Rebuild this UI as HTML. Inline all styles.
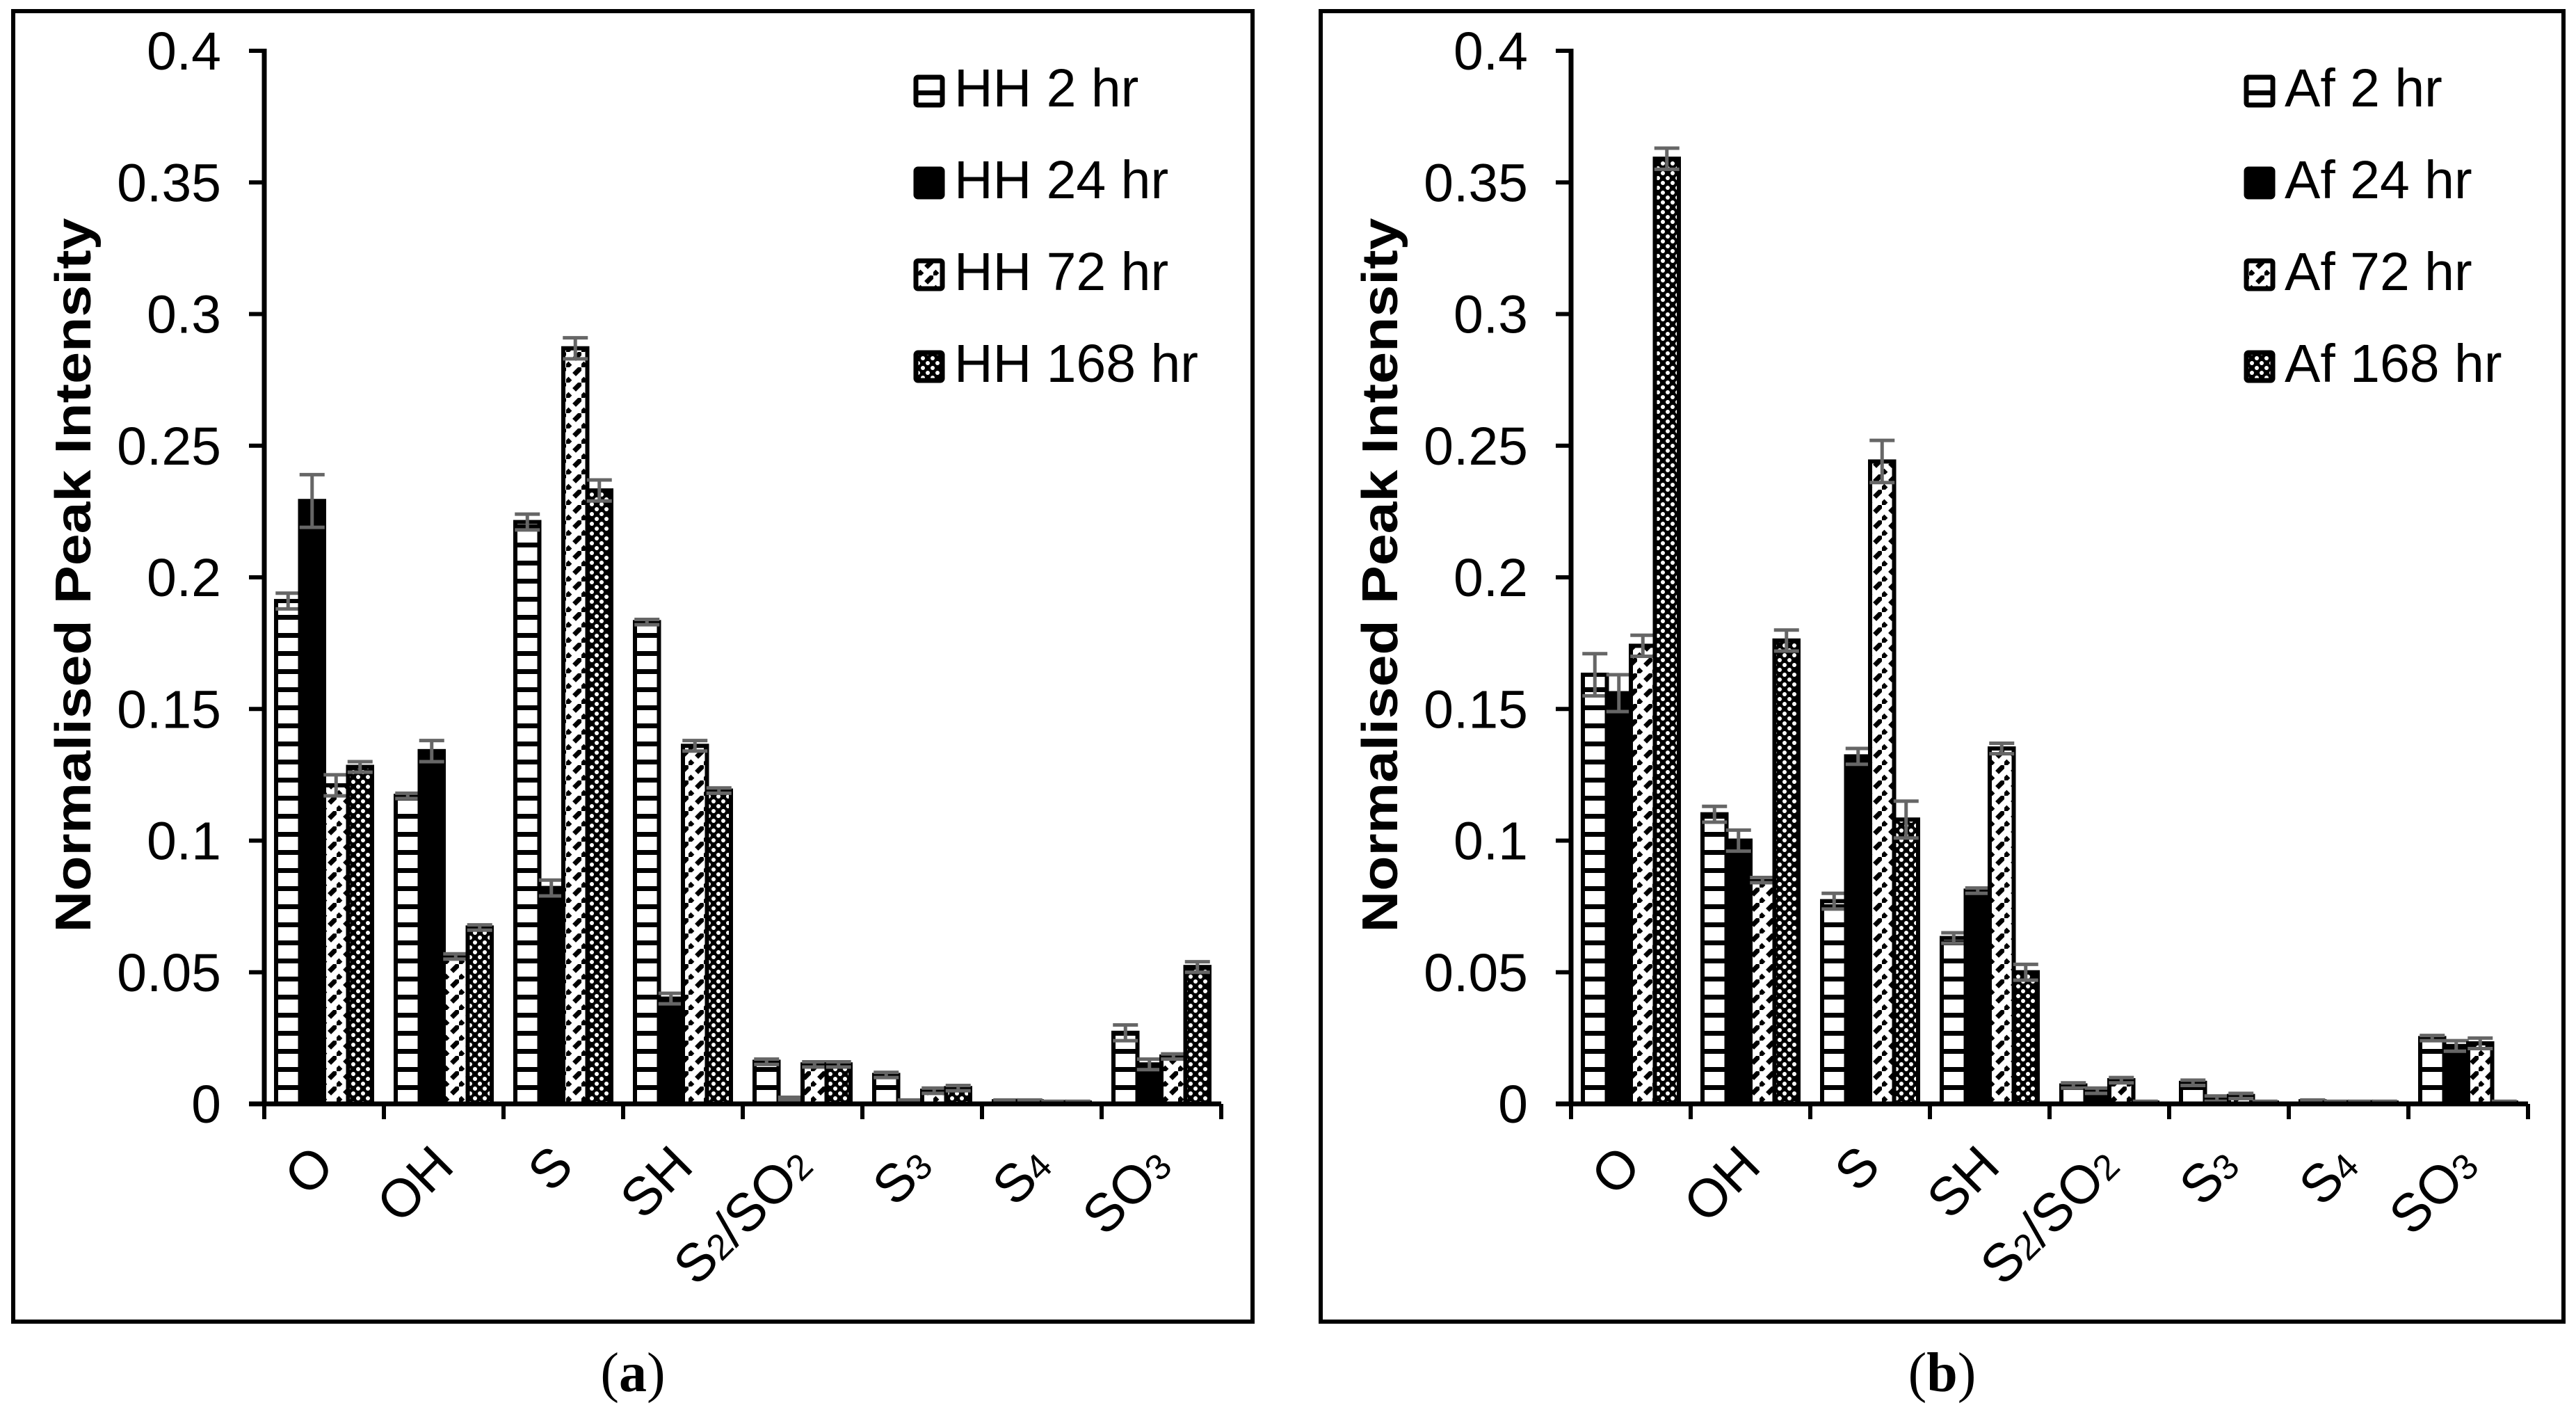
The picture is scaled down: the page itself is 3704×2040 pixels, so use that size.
<!DOCTYPE html>
<html><head><meta charset="utf-8">
<style>
html,body{margin:0;padding:0;background:#fff;}
svg{display:block;}
text{font-family:"Liberation Sans",Arial,sans-serif;fill:#000;}
</style></head>
<body>
<svg id="chart" width="3704" height="2040" viewBox="0 0 3704 2040" xmlns="http://www.w3.org/2000/svg">
<defs>
<pattern id="p-h" patternUnits="userSpaceOnUse" width="26" height="26">
<rect width="26" height="26" fill="#fff"/><rect y="0" width="26" height="7" fill="#000"/>
</pattern>
<pattern id="p-d" patternUnits="userSpaceOnUse" width="22" height="22">
<rect width="22" height="22" fill="#fff"/><path d="M-4,26 L26,-4" stroke="#000" stroke-width="7" stroke-dasharray="14 8"/>
</pattern>
<pattern id="p-c" patternUnits="userSpaceOnUse" width="14" height="14">
<rect width="14" height="14" fill="#000"/><circle cx="4" cy="4" r="3" fill="#fff"/><circle cx="11" cy="11" r="3" fill="#fff"/>
</pattern>
</defs>
<g id="root"></g>
</svg>
<script>
const categories = ["O","OH","S","SH","S2/SO2","S3","S4","SO3"];
const yTicks = [0,0.05,0.1,0.15,0.2,0.25,0.3,0.35,0.4];
const yTickLabels = ["0","0.05","0.1","0.15","0.2","0.25","0.3","0.35","0.4"];
const seriesA = ["HH 2 hr","HH 24 hr","HH 72 hr","HH 168 hr"];
const seriesB = ["Af 2 hr","Af 24 hr","Af 72 hr","Af 168 hr"];
const hh2 = [0.191,0.117,0.221,0.183,0.016,0.011,0.001,0.027];
const hh24 = [0.229,0.134,0.082,0.040,0.002,0.001,0.001,0.015];
const hh72 = [0.121,0.056,0.287,0.136,0.015,0.005,0.0005,0.018];
const hh168 = [0.128,0.067,0.233,0.119,0.015,0.006,0.0005,0.052];
const hh2Err = [0.003,0.001,0.003,0.001,0.001,0.001,0.0005,0.003];
const hh24Err = [0.010,0.004,0.003,0.002,0.0005,0.0005,0.0005,0.002];
const hh72Err = [0.004,0.001,0.004,0.002,0.001,0.001,0.0005,0.001];
const hh168Err = [0.002,0.001,0.004,0.001,0.001,0.001,0.0005,0.002];
const af2 = [0.163,0.110,0.077,0.063,0.007,0.008,0.001,0.025];
const af24 = [0.156,0.100,0.132,0.081,0.005,0.002,0.0005,0.022];
const af72 = [0.174,0.085,0.244,0.135,0.009,0.003,0.0005,0.023];
const af168 = [0.359,0.176,0.108,0.050,0.0005,0.0005,0.0005,0.0005];
const af2Err = [0.008,0.003,0.003,0.002,0.001,0.001,0.0005,0.001];
const af24Err = [0.007,0.004,0.003,0.001,0.001,0.001,0.0005,0.002];
const af72Err = [0.004,0.001,0.008,0.002,0.001,0.001,0.0005,0.002];
const af168Err = [0.004,0.004,0.007,0.003,0.0005,0.0005,0.0005,0.0005];

const NS="http://www.w3.org/2000/svg";
const root=document.getElementById('root');
const fills=["url(#p-h)","#000","url(#p-d)","url(#p-c)"];
function mk(tag,attrs,parent){const e=document.createElementNS(NS,tag);for(const k in attrs)e.setAttribute(k,attrs[k]);(parent||root).appendChild(e);return e;}

function panel(ox, frameL, frameR, series, vals, errs, legX, letter){
  const g=mk('g',{});
  
  
  const X0=380+ox, Y0=1587, TOP=73, CW=172;
  const yS=v=>Y0-(v/0.4)*(Y0-TOP);
  const xS=i=>X0+i*CW;
  const fr=mk('rect',{x:frameL,y:16,width:frameR-frameL,height:1884,fill:'none',stroke:'#000','stroke-width':6},g);
  
  
  // y ticks
  yTicks.forEach((t,i)=>{
    mk('line',{x1:X0-22,x2:X0,y1:yS(t),y2:yS(t),stroke:'#000','stroke-width':6},g);
    const tx=mk('text',{x:X0-62,y:yS(t)+27,'text-anchor':'end','font-size':77},g);
    tx.textContent=yTickLabels[i];
    
    
  });
  // bars
  const bw=34.5;
  categories.forEach((c,ci)=>{
    for(let s=0;s<4;s++){
      const v=vals[s][ci];
      const x=xS(ci)+17+s*bw;
      const y=yS(v);
      const r=mk('rect',{x:x,y:y,width:bw,height:Y0-y,fill:fills[s],stroke:'#000','stroke-width':6},g);
      
      
      const e=errs[s][ci];
      const cx=x+bw/2, yt=yS(v+e), yb=yS(v-e);
      const eb=mk('path',{d:`M${cx},${yt}V${yb}M${cx-18},${yt}H${cx+18}M${cx-18},${yb}H${cx+18}`,stroke:'#666','stroke-width':5,fill:'none'},g);
      
      
    }
  });
  // axes
  mk('line',{x1:X0,x2:X0,y1:TOP-3,y2:Y0+3,stroke:'#000','stroke-width':7},g);
  mk('line',{x1:X0-22,x2:xS(8),y1:Y0,y2:Y0,stroke:'#000','stroke-width':7},g);
  for(let i=0;i<=8;i++) mk('line',{x1:xS(i),x2:xS(i),y1:Y0,y2:Y0+22,stroke:'#000','stroke-width':6},g);
  // category labels
  categories.forEach((c,ci)=>{
    const ax=xS(ci)+CW/2+18, ay=1680;
    const t=mk('text',{x:ax,y:ay,'text-anchor':'end','font-size':77,transform:`rotate(-45 ${ax} ${ay})`},g);
    
    
    const parts=c.match(/[A-Z]+|[0-9]+|\//g);
    parts.forEach(p=>{
      const sp=mk('tspan',{},t);
      if(/[0-9]/.test(p)){sp.setAttribute('font-size','52');}
      sp.textContent=p;
    });
  });
  // y title
  const yt=mk('text',{x:0,y:0,'text-anchor':'middle','font-size':72,'font-weight':'bold',transform:`translate(${ox+130},827) rotate(-90)`,textLength:1027,lengthAdjust:'spacingAndGlyphs'},g);
  yt.textContent='Normalised Peak Intensity';
  
  
  // legend
  series.forEach((s,i)=>{
    const ly=107+i*132;
    const le=mk('g',{},g);
    
    
    mk('rect',{x:legX+4,y:ly+4,width:38,height:40,fill:fills[i],stroke:'#000','stroke-width':7,rx:3},le);
    const t=mk('text',{x:legX+59,y:ly+46,'font-size':77},le);
    t.textContent=s;
  });
  const lab=mk('text',{x:(frameL+frameR)/2,y:2000,'text-anchor':'middle','font-size':80,style:'font-family:"Liberation Serif",serif'},g);
  
  
  lab.textContent='(';
  const b=mk('tspan',{'font-weight':'bold'},lab);b.textContent=letter;
  const c2=mk('tspan',{},lab);c2.textContent=')';
}
panel(0,19,1801,seriesA,[hh2,hh24,hh72,hh168],[hh2Err,hh24Err,hh72Err,hh168Err],1313,'a');
panel(1879,1899,3686,seriesB,[af2,af24,af72,af168],[af2Err,af24Err,af72Err,af168Err],3226,'b');
</script>
</body></html>
